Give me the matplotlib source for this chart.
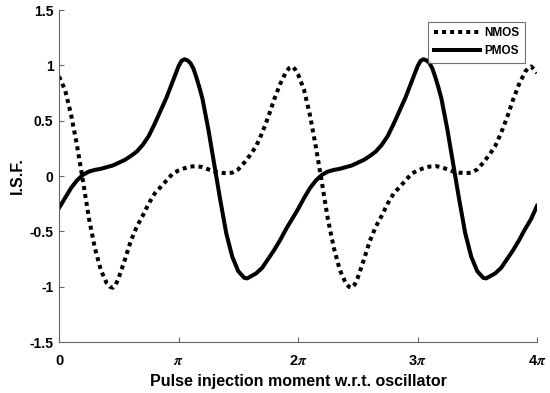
import numpy as np
import matplotlib
matplotlib.use("Agg")
import matplotlib.pyplot as plt

# phase in units of pi (x axis runs 0..4 pi)
nmos_phase = [0, 0.05, 0.1, 0.15, 0.2, 0.25, 0.3, 0.35, 0.4, 0.425, 0.45, 0.475,
              0.5, 0.55, 0.6, 0.65, 0.7, 0.75, 0.8, 0.85, 0.9, 0.95,
              1.0, 1.05, 1.1, 1.15, 1.2, 1.25, 1.3, 1.35, 1.4, 1.45,
              1.5, 1.55, 1.6, 1.65, 1.7, 1.75, 1.8, 1.85, 1.9, 1.925, 1.95, 1.975,
              2.0, 2.05, 2.1, 2.15, 2.2, 2.25, 2.3, 2.35, 2.4, 2.425, 2.45, 2.475,
              2.5, 2.55, 2.6, 2.65, 2.7, 2.75, 2.8, 2.85, 2.9, 2.95,
              3.0, 3.05, 3.1, 3.15, 3.2, 3.25, 3.3, 3.35, 3.4, 3.45,
              3.5, 3.55, 3.6, 3.65, 3.7, 3.75, 3.8, 3.85, 3.9, 3.925, 3.95, 3.975,
              4.0]
nmos = [0.90, 0.78, 0.56, 0.28, -0.04, -0.38, -0.65, -0.85, -0.97, -1.0, -1.01, -0.98,
        -0.92, -0.76, -0.59, -0.46, -0.36, -0.25, -0.16, -0.10, -0.04, 0.02,
        0.05, 0.07, 0.085, 0.09, 0.08, 0.06, 0.04, 0.03, 0.025, 0.03,
        0.06, 0.12, 0.19, 0.27, 0.39, 0.53, 0.69, 0.83, 0.94, 0.975, 0.99, 0.965,
        0.92, 0.78, 0.55, 0.26, -0.06, -0.39, -0.65, -0.85, -0.97, -1.0, -1.01, -0.98,
        -0.92, -0.76, -0.59, -0.46, -0.36, -0.25, -0.16, -0.10, -0.04, 0.02,
        0.05, 0.07, 0.085, 0.09, 0.08, 0.06, 0.04, 0.03, 0.025, 0.03,
        0.06, 0.12, 0.19, 0.27, 0.39, 0.53, 0.69, 0.83, 0.94, 0.975, 0.99, 0.965,
        0.93]

pmos_phase = [0, 0.05, 0.1, 0.15, 0.2, 0.25, 0.3, 0.35, 0.4, 0.45,
              0.5, 0.55, 0.6, 0.65, 0.7, 0.75, 0.8, 0.85, 0.9, 0.95,
              1.0, 1.025, 1.05, 1.075, 1.1, 1.125, 1.15, 1.175, 1.2, 1.25,
              1.3, 1.35, 1.4, 1.45, 1.5, 1.55, 1.575, 1.6, 1.65, 1.7,
              1.75, 1.8, 1.85, 1.9, 1.95,
              2.0, 2.05, 2.1, 2.15, 2.2, 2.25, 2.3, 2.35, 2.4, 2.45,
              2.5, 2.55, 2.6, 2.65, 2.7, 2.75, 2.8, 2.85, 2.9, 2.95,
              3.0, 3.025, 3.05, 3.075, 3.1, 3.125, 3.15, 3.175, 3.2, 3.25,
              3.3, 3.35, 3.4, 3.45, 3.5, 3.55, 3.575, 3.6, 3.65, 3.7,
              3.75, 3.8, 3.85, 3.9, 3.95,
              4.0]
pmos = [-0.29, -0.20, -0.11, -0.04, 0.01, 0.04, 0.055, 0.065, 0.08, 0.095,
        0.12, 0.145, 0.18, 0.22, 0.28, 0.36, 0.47, 0.59, 0.71, 0.85,
        0.99, 1.04, 1.055, 1.045, 1.02, 0.97, 0.89, 0.80, 0.70, 0.42,
        0.10, -0.22, -0.52, -0.73, -0.86, -0.92, -0.925, -0.91, -0.88, -0.83,
        -0.75, -0.67, -0.58, -0.48, -0.39,
        -0.30, -0.20, -0.11, -0.04, 0.01, 0.04, 0.055, 0.065, 0.08, 0.095,
        0.12, 0.145, 0.18, 0.22, 0.28, 0.36, 0.47, 0.59, 0.71, 0.85,
        0.99, 1.04, 1.055, 1.045, 1.02, 0.97, 0.89, 0.80, 0.70, 0.42,
        0.10, -0.22, -0.52, -0.73, -0.86, -0.92, -0.925, -0.91, -0.88, -0.83,
        -0.75, -0.67, -0.58, -0.48, -0.39,
        -0.27]

xticks = [0, 1, 2, 3, 4]
xlabels = ['0', r'$\boldsymbol{\pi}$', r'2$\boldsymbol{\pi}$',
           r'3$\boldsymbol{\pi}$', r'4$\boldsymbol{\pi}$']
yticks = [-1.5, -1, -0.5, 0, 0.5, 1, 1.5]
ylabels = ['-1.5', '-1', '-0.5', '0', '0.5', '1', '1.5']

plt.rcParams['font.family'] = ['Liberation Sans', 'DejaVu Sans']
plt.rcParams['mathtext.fontset'] = 'stix'

fig = plt.figure(figsize=(5.5, 3.93), dpi=100)
ax = fig.add_axes([59/550, 1-342/393, (537-59)/550, (342-10)/393])

ax.plot(nmos_phase, nmos, color='k', lw=2.9, linestyle=(0, (1, 1)),
        dash_capstyle='butt', label='NMOS')
ax.plot(pmos_phase, pmos, color='k', lw=2.9, label='PMOS')

ax.set_xlim(0, 4)
ax.set_ylim(-1.5, 1.5)
ax.set_xticks(xticks)
ax.set_xticklabels(xlabels, fontweight='bold', fontsize=10.5)
ax.set_yticks(yticks)
ax.set_yticklabels(ylabels, fontweight='bold', fontsize=10)
ax.tick_params(direction='in', length=3.6, width=0.8, color='0.4')
ax.tick_params(axis='x', pad=8.5)
ax.tick_params(axis='y', pad=4)
for s in ['top', 'right']:
    ax.spines[s].set_visible(False)
for s in ['left', 'bottom']:
    ax.spines[s].set_color('0.4')
    ax.spines[s].set_linewidth(0.8)

ax.set_xlabel('Pulse injection moment w.r.t. oscillator', fontweight='bold',
              fontsize=11.5, labelpad=4.5)
ax.set_ylabel('I.S.F.', fontweight='bold', fontsize=11.5, labelpad=3)

leg = ax.legend(loc='upper right', bbox_to_anchor=(525/550, 1-22/393),
                bbox_transform=fig.transFigure, fancybox=False,
                edgecolor='0.3', handlelength=3.9, borderpad=0.45,
                labelspacing=0.5, handletextpad=0.4, borderaxespad=0,
                prop={'weight': 'bold', 'size': 8.5})
leg.get_frame().set_linewidth(0.8)

fig.savefig('out.png', dpi=100)
